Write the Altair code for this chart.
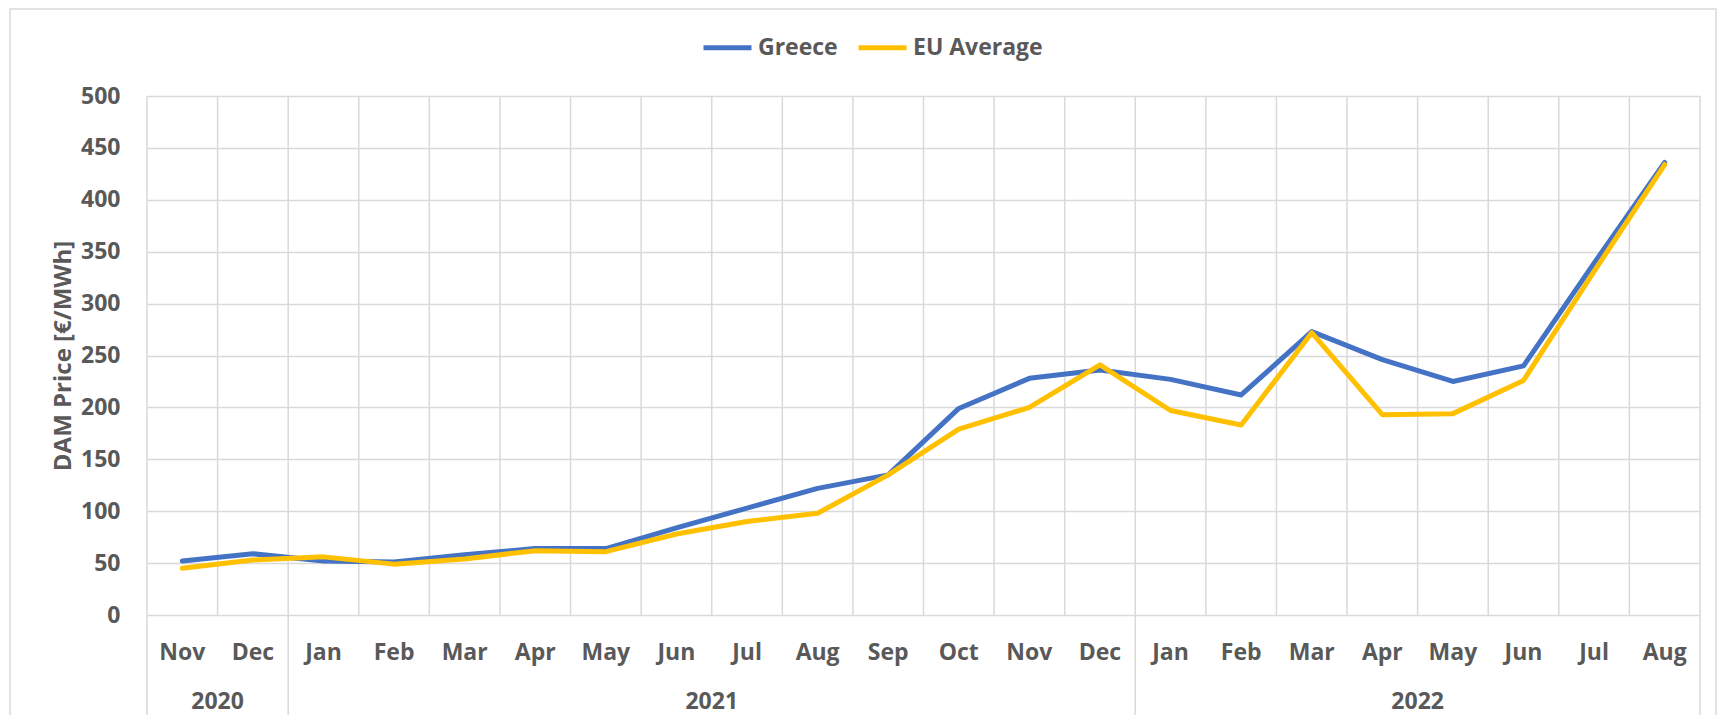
import altair as alt
import pandas as pd

# ---- data ----
months = ["Nov", "Dec", "Jan", "Feb", "Mar", "Apr", "May", "Jun", "Jul", "Aug", "Sep",
          "Oct", "Nov", "Dec", "Jan", "Feb", "Mar", "Apr", "May", "Jun", "Jul", "Aug"]
years = ["2020"] * 2 + ["2021"] * 12 + ["2022"] * 8
greece = [52, 59, 52, 51, 58, 64, 64, 84, 103, 122, 135, 199, 228, 236,
          227, 212, 273, 246, 225, 240, 339, 436]
eu_average = [45, 53, 56, 49, 54, 62, 61, 78, 90, 98, 135, 179, 200, 241,
              197, 183, 272, 193, 194, 226, 331, 434]
series_names = ["Greece", "EU Average"]
series_colors = ["#4472C4", "#FFC000"]
y_ticks = list(range(0, 501, 50))
y_title = "DAM Price [€/MWh]"

# ---- styling ----
W, H = 1553, 519
FONT = "Open Sans"
GREY = "#595959"
GRID = "#D9D9D9"
FS = 23

idx = list(range(len(months)))
df = pd.DataFrame({"i": idx, "month": months, "year": years,
                   "Greece": greece, "EU Average": eu_average})
long = df.melt(id_vars=["i", "month", "year"], value_vars=series_names,
               var_name="series", value_name="price")

bounds = pd.DataFrame({"b": [k - 0.5 for k in range(len(months) + 1)]})
yr = df.groupby("year").agg(c=("i", "mean"), lo=("i", "min"), hi=("i", "max")).reset_index()
seps = pd.DataFrame({"b": sorted(set([v - 0.5 for v in yr["lo"]] + [v + 0.5 for v in yr["hi"]]))})

xs = alt.Scale(domain=[-0.5, len(months) - 0.5], nice=False, zero=False)
ys = alt.Scale(domain=[0, 500], nice=False, zero=True)
cs = alt.Scale(domain=series_names, range=series_colors)

y_enc = alt.Y("price:Q", scale=ys, axis=alt.Axis(
    values=y_ticks, title=y_title, titleFont=FONT, titleFontSize=24, titleFontWeight="bold",
    titleColor=GREY, titlePadding=5, labelFont=FONT, labelFontSize=FS, labelFontWeight="bold",
    labelColor=GREY, labelPadding=27, ticks=False, tickSize=0, domain=False,
    grid=True, gridColor=GRID, gridWidth=1.5))

legend = alt.Legend(orient="none", legendX=554, legendY=-75, direction="horizontal",
                    title=None, symbolType="stroke", symbolSize=2304, symbolStrokeWidth=5,
                    labelFont=FONT, labelFontSize=FS, labelFontWeight="bold", labelColor=GREY,
                    labelOffset=4, columnPadding=10, padding=0)


def line(name):
    return alt.Chart(long).transform_filter(alt.datum.series == name).mark_line(
        strokeWidth=5, strokeCap="round", strokeJoin="round").encode(
        x=alt.X("i:Q", scale=xs, axis=None),
        y=y_enc,
        color=alt.Color("series:N", scale=cs, legend=legend))


border = alt.Chart(pd.DataFrame({"d": [0]})).mark_rect(
    filled=False, color=GRID, strokeWidth=1.5).encode(
    x=alt.value(-137), x2=alt.value(W + 16), y=alt.value(-87), y2=alt.value(H + 130))

vgrid = alt.Chart(bounds).mark_rule(color=GRID, strokeWidth=1.5).encode(
    x=alt.X("b:Q", scale=xs, axis=None), y=alt.value(0), y2=alt.value(H))

vsep = alt.Chart(seps).mark_rule(color=GRID, strokeWidth=1.5).encode(
    x=alt.X("b:Q", scale=xs, axis=None), y=alt.value(H), y2=alt.value(H + 100))

month_text = alt.Chart(df).mark_text(font=FONT, fontSize=FS, fontWeight="bold", color=GREY,
                                     baseline="middle", align="center").encode(
    x=alt.X("i:Q", scale=xs, axis=None), y=alt.value(557), text="month:N")

year_text = alt.Chart(yr).mark_text(font=FONT, fontSize=FS, fontWeight="bold", color=GREY,
                                    baseline="middle", align="center").encode(
    x=alt.X("c:Q", scale=xs, axis=None), y=alt.value(606), text="year:N")

chart = alt.layer(border, vgrid, vsep, line("Greece"), line("EU Average"),
                  month_text, year_text).properties(
    width=W, height=H,
    padding={"left": 139, "top": 88, "right": 18, "bottom": 100},
    autosize=alt.AutoSizeParams(type="none"),
).configure_view(stroke=None)

chart.save("out.html", embed_options={"renderer": "svg", "actions": False})
